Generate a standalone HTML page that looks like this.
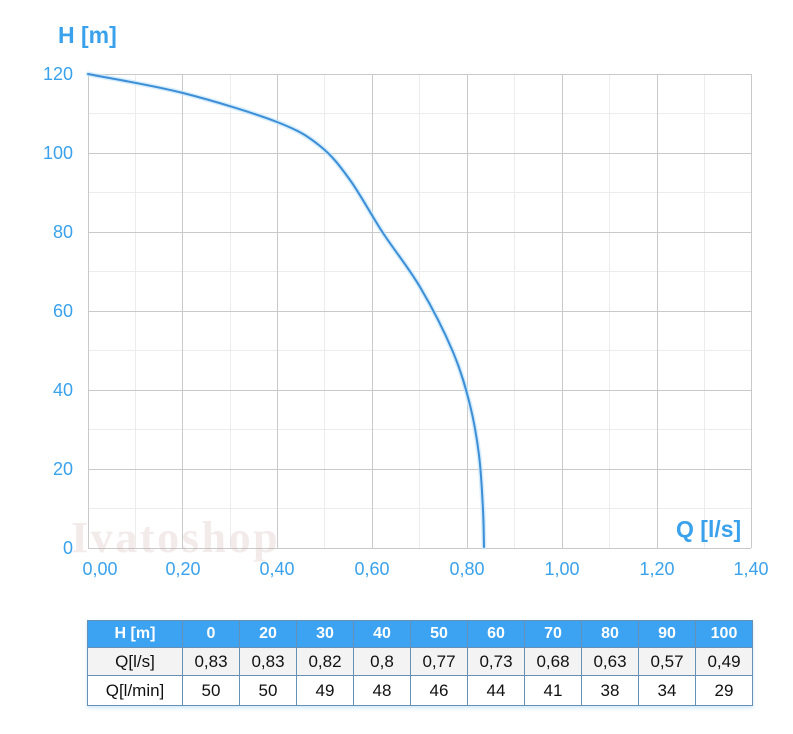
<!DOCTYPE html>
<html><head><meta charset="utf-8"><style>
html,body{margin:0;padding:0;background:#fff;}
body{width:793px;height:734px;position:relative;overflow:hidden;font-family:"Liberation Sans",Arial,sans-serif;}
svg{position:absolute;left:0;top:0;}
table{position:absolute;left:87px;top:620px;border-collapse:collapse;box-shadow:0 2px 4px rgba(120,190,240,0.35);}
td{border:1px solid #6690b6;height:27px;padding:0;text-align:center;font-size:17px;color:#111;width:56px;}
td.f{width:94px;}
tr.h td{background:#3ca3f3;color:#fff;font-weight:bold;font-size:16px;height:26px;}
tr.a td{background:#f3f3f3;}
tr.b td{background:#fff;height:29px;}
</style></head><body>
<svg width="793" height="734" viewBox="0 0 793 734">
<g stroke="#ececec" stroke-width="1">
<line x1="135.5" y1="74" x2="135.5" y2="548"/>
<line x1="230.5" y1="74" x2="230.5" y2="548"/>
<line x1="324.5" y1="74" x2="324.5" y2="548"/>
<line x1="419.5" y1="74" x2="419.5" y2="548"/>
<line x1="514.5" y1="74" x2="514.5" y2="548"/>
<line x1="609.5" y1="74" x2="609.5" y2="548"/>
<line x1="704.5" y1="74" x2="704.5" y2="548"/>
<line x1="88" y1="113.5" x2="751" y2="113.5"/>
<line x1="88" y1="192.5" x2="751" y2="192.5"/>
<line x1="88" y1="271.5" x2="751" y2="271.5"/>
<line x1="88" y1="350.5" x2="751" y2="350.5"/>
<line x1="88" y1="429.5" x2="751" y2="429.5"/>
<line x1="88" y1="508.5" x2="751" y2="508.5"/>
</g>
<g stroke="#c9c9c9" stroke-width="1">
<line x1="88.5" y1="74" x2="88.5" y2="548"/>
<line x1="182.5" y1="74" x2="182.5" y2="548"/>
<line x1="277.5" y1="74" x2="277.5" y2="548"/>
<line x1="372.5" y1="74" x2="372.5" y2="548"/>
<line x1="467.5" y1="74" x2="467.5" y2="548"/>
<line x1="562.5" y1="74" x2="562.5" y2="548"/>
<line x1="657.5" y1="74" x2="657.5" y2="548"/>
<line x1="751.5" y1="74" x2="751.5" y2="548"/>
<line x1="88" y1="74.5" x2="751" y2="74.5"/>
<line x1="88" y1="153.5" x2="751" y2="153.5"/>
<line x1="88" y1="232.5" x2="751" y2="232.5"/>
<line x1="88" y1="311.5" x2="751" y2="311.5"/>
<line x1="88" y1="390.5" x2="751" y2="390.5"/>
<line x1="88" y1="469.5" x2="751" y2="469.5"/>
<line x1="88" y1="548.5" x2="751" y2="548.5"/>
</g>
<text x="71" y="552" font-family="Liberation Serif,serif" font-weight="bold" font-size="44" fill="#c8a0a0" fill-opacity="0.22" letter-spacing="2.6">Ivatoshop</text>
<path fill="none" stroke="#c6e6fb" stroke-width="5" stroke-linecap="round" opacity="0.7" d="M88,74 C103.8,77.2 151.5,85 183,93 C214.5,101 254.2,113.2 277,122 C299.8,130.8 307.8,136.3 320,146 C332.2,155.7 339.5,165.5 350,180 C360.5,194.5 371.3,215.2 383,233 C394.7,250.8 408.3,267.2 420,287 C431.7,306.8 444.7,332.3 453,352 C461.3,371.7 465.7,387.8 470,405 C474.3,422.2 476.8,437.5 479,455 C481.2,472.5 482.2,494.7 483,510 C483.8,525.3 483.8,540.8 484,547"/>
<path fill="none" stroke="#3c8fd7" stroke-width="2" stroke-linecap="round" d="M88,74 C103.8,77.2 151.5,85 183,93 C214.5,101 254.2,113.2 277,122 C299.8,130.8 307.8,136.3 320,146 C332.2,155.7 339.5,165.5 350,180 C360.5,194.5 371.3,215.2 383,233 C394.7,250.8 408.3,267.2 420,287 C431.7,306.8 444.7,332.3 453,352 C461.3,371.7 465.7,387.8 470,405 C474.3,422.2 476.8,437.5 479,455 C481.2,472.5 482.2,494.7 483,510 C483.8,525.3 483.8,540.8 484,547"/>
<g font-family="Liberation Sans,Arial,sans-serif" fill="#3aa2ec">
<text x="58" y="43" font-size="23" font-weight="bold">H [m]</text>
<text x="676" y="537" font-size="23" font-weight="bold">Q [l/s]</text>
<g font-size="18" text-anchor="end">
<text x="73" y="80">120</text>
<text x="73" y="159">100</text>
<text x="73" y="238">80</text>
<text x="73" y="317">60</text>
<text x="73" y="396">40</text>
<text x="73" y="475">20</text>
<text x="73" y="554">0</text>
</g>
<g font-size="18" text-anchor="middle">
<text x="100" y="575">0,00</text>
<text x="183" y="575">0,20</text>
<text x="277" y="575">0,40</text>
<text x="372" y="575">0,60</text>
<text x="467" y="575">0,80</text>
<text x="562" y="575">1,00</text>
<text x="657" y="575">1,20</text>
<text x="751" y="575">1,40</text>
</g>
</g>
</svg>
<table>
<tr class="h"><td class="f">H [m]</td><td>0</td><td>20</td><td>30</td><td>40</td><td>50</td><td>60</td><td>70</td><td>80</td><td>90</td><td>100</td></tr>
<tr class="a"><td class="f">Q[l/s]</td><td>0,83</td><td>0,83</td><td>0,82</td><td>0,8</td><td>0,77</td><td>0,73</td><td>0,68</td><td>0,63</td><td>0,57</td><td>0,49</td></tr>
<tr class="b"><td class="f">Q[l/min]</td><td>50</td><td>50</td><td>49</td><td>48</td><td>46</td><td>44</td><td>41</td><td>38</td><td>34</td><td>29</td></tr>
</table>
</body></html>
